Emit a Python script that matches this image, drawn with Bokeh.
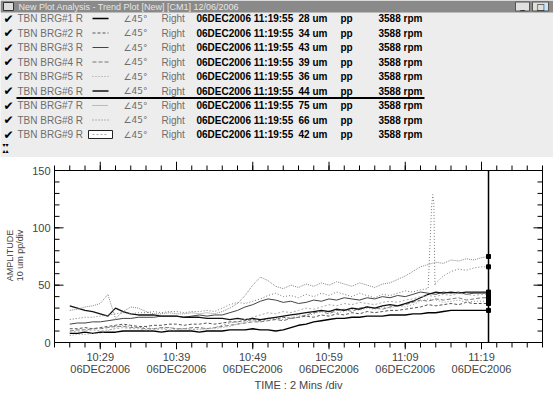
from bokeh.plotting import figure
from bokeh.models import Range1d, FixedTicker, ColumnDataSource
from bokeh.core.properties import value
from bokeh.embed import file_html
from bokeh.resources import INLINE

FONT = "Liberation Sans"

# ---------------- data ----------------
# sample times, minutes after 10:00 (10:25 ... 11:19, then cursor 11:19:55)
minutes = [25, 26, 27, 28, 29, 30, 31, 32, 33, 34,
           35, 36, 37, 38, 39, 40, 41, 42, 43, 44,
           45, 46, 47, 48, 49, 50, 51, 52, 53, 54,
           55, 56, 57, 58, 59, 60, 61, 62, 63, 64,
           65, 66, 67, 68, 69, 70, 71, 72, 73, 74,
           75, 76, 77, 78, 79, 79.92]

s1 = [8, 8, 9, 8, 9, 9, 9, 10, 10, 10,
      10, 10, 9, 10, 10, 10, 10, 9, 10, 10,
      10, 11, 11, 11, 12, 11, 11, 10, 11, 13,
      15, 16, 18, 19, 20, 21, 21, 22, 22, 23,
      23, 23, 24, 24, 24, 25, 25, 26, 26, 27,
      28, 28, 28, 28, 28, 28]
s2 = [12, 12, 13, 12, 13, 14, 15, 16, 15, 14,
      14, 15, 15, 16, 16, 15, 16, 16, 17, 16,
      17, 18, 18, 19, 20, 19, 21, 20, 22, 21,
      22, 23, 22, 24, 23, 25, 24, 26, 25, 27,
      26, 27, 28, 28, 29, 30, 31, 33, 32, 33,
      34, 33, 35, 34, 34, 34]
s3 = [16, 17, 17, 18, 18, 19, 20, 21, 21, 22,
      22, 22, 23, 23, 23, 22, 23, 24, 23, 24,
      24, 26, 28, 31, 33, 36, 38, 37, 35, 36,
      34, 35, 37, 36, 38, 37, 39, 38, 37, 39,
      38, 40, 39, 41, 40, 42, 44, 43, 42, 44,
      43, 44, 42, 43, 43, 43]
s4 = [10, 11, 11, 12, 12, 13, 14, 14, 13, 13,
      12, 12, 13, 13, 12, 12, 13, 13, 12, 13,
      14, 15, 16, 17, 18, 18, 19, 20, 19, 21,
      22, 24, 26, 27, 25, 28, 29, 27, 30, 31,
      30, 29, 31, 32, 33, 35, 37, 36, 38, 37,
      38, 39, 37, 38, 39, 39]
s5 = [6, 7, 7, 8, 8, 10, 13, 15, 14, 13,
      13, 12, 12, 13, 12, 12, 12, 11, 12, 12,
      13, 14, 16, 18, 19, 18, 20, 21, 20, 22,
      24, 23, 25, 27, 28, 26, 27, 29, 28, 30,
      29, 31, 30, 32, 31, 33, 36, 38, 37, 35,
      36, 37, 35, 36, 36, 36]
s6 = [32, 30, 28, 27, 25, 23, 30, 27, 25, 24,
      24, 24, 23, 23, 23, 22, 22, 22, 21, 21,
      21, 20, 21, 20, 21, 20, 21, 22, 23, 24,
      25, 26, 27, 28, 27, 29, 28, 30, 29, 31,
      30, 32, 33, 32, 34, 36, 39, 42, 44, 43,
      44, 43, 44, 44, 44, 44]
s7 = [28, 29, 31, 32, 34, 42, 21, 27, 31, 30,
      27, 25, 25, 26, 25, 25, 26, 25, 26, 25,
      27, 30, 34, 41, 50, 57, 54, 49, 47, 50,
      48, 51, 49, 52, 50, 53, 51, 49, 52, 50,
      48, 51, 52, 55, 58, 62, 66, 68, 70, 69,
      72, 71, 73, 72, 74, 75]
s8 = [20, 21, 22, 22, 23, 24, 25, 26, 25, 26,
      26, 27, 26, 27, 27, 26, 27, 27, 28, 27,
      30, 33, 35, 34, 36, 38, 41, 43, 40, 41,
      39, 42, 40, 43, 41, 44, 42, 40, 43, 41,
      39, 42, 41, 43, 45, 44, 46, 47, 52, 58,
      62, 64, 63, 65, 66, 66]
s8_spike_minutes = [72.45, 72.6, 72.75, 72.9]
s8_spike_values = [118, 129, 121, 50]
s9 = [9, 10, 10, 11, 10, 11, 12, 13, 12, 12,
      11, 11, 12, 11, 11, 12, 11, 12, 12, 13,
      15, 17, 18, 20, 22, 24, 26, 25, 27, 26,
      28, 30, 29, 31, 33, 32, 34, 33, 35, 34,
      33, 35, 36, 35, 37, 38, 40, 41, 40, 42,
      41, 43, 42, 41, 42, 42]

names = ["TBN BRG#1 R", "TBN BRG#2 R", "TBN BRG#3 R", "TBN BRG#4 R", "TBN BRG#5 R",
         "TBN BRG#6 R", "TBN BRG#7 R", "TBN BRG#8 R", "TBN BRG#9 R"]
amplitude = [28, 34, 43, 39, 36, 44, 75, 66, 42]
angle_label = "\u222045\u00b0"
side_label = "Right"
timestamp = "06DEC2006 11:19:55"
unit_label = "um"
pp_label = "pp"
speed_rpm = 3588

cursor_minute = 79.92
tick_minutes = [29, 39, 49, 59, 69, 79]
tick_times = ["10:29", "10:39", "10:49", "10:59", "11:09", "11:19"]
tick_date = "06DEC2006"
x_start, x_end = 23, 87
y_low, y_high = 0, 150
y_major = [0, 50, 100, 150]

styles = [
    dict(line_color="#000000", line_width=1.4),
    dict(line_color="#555555", line_width=1, line_dash="3 2"),
    dict(line_color="#444444", line_width=1),
    dict(line_color="#777777", line_width=1, line_dash="4 2"),
    dict(line_color="#999999", line_width=1, line_dash="1 2"),
    dict(line_color="#111111", line_width=1.3),
    dict(line_color="#888888", line_width=1, line_dash="1 1"),
    dict(line_color="#777777", line_width=1, line_dash="1 2"),
    dict(line_color="#aaaaaa", line_width=1, line_dash="2 2"),
]

# ---------------- header (legend table) ----------------
W, HH, HP = 553, 157, 236
hdr = figure(width=W, height=HH, x_range=Range1d(0, W), y_range=Range1d(HH, 0),
             output_backend="svg", toolbar_location=None, min_border=0,
             min_border_left=0, min_border_right=0, min_border_top=0, min_border_bottom=0,
             x_axis_type=None, y_axis_type=None,
             background_fill_color="#ededed", border_fill_color="#ededed",
             outline_line_color=None)
hdr.xgrid.visible = False
hdr.ygrid.visible = False

# title bar
hdr.quad(left=0, right=W, top=0, bottom=12, fill_color="#8a8a8a", line_color=None)
hdr.quad(left=3, right=13, top=2, bottom=10, fill_color="#dddddd", line_color="#333333")
hdr.text(x=[18], y=[6.5], text=["New Plot Analysis - Trend Plot [New] [CM1] 12/06/2006"],
         text_font=value(FONT), text_font_size="9px", text_color="#e6e6e6",
         text_baseline="middle")
hdr.quad(left=[515, 532], right=[529, 548], top=[1.5, 1.5], bottom=[10.5, 10.5],
         fill_color="#e0e0e0", line_color="#555555")
hdr.text(x=[522, 540], y=[5.5, 6.5], text=["_", "\u25a1"], text_font=value("DejaVu Sans"),
         text_font_size="9px", text_color="black", text_align="center",
         text_baseline="middle")

row_y = [18 + 14.5 * i for i in range(len(names))]

hdr.text(x=[3] * 9, y=row_y, text=["\u2714"] * 9, text_font=value("DejaVu Sans"),
         text_font_size="12px", text_color="black", text_baseline="middle")
hdr.text(x=[17] * 9, y=row_y, text=names, text_font=value(FONT),
         text_font_size="10px", text_color="#6e6e6e", text_baseline="middle")
hdr.quad(left=88, right=112, top=row_y[8] - 4, bottom=row_y[8] + 4,
         fill_color="white", line_color="#222222")
for i, st in enumerate(styles):
    hdr.segment(x0=92, x1=108, y0=row_y[i], y1=row_y[i], **st)
hdr.text(x=[123] * 9, y=row_y, text=[angle_label] * 9, text_font=value("DejaVu Sans"),
         text_font_size="9px", text_color="#6e6e6e", text_baseline="middle")
hdr.text(x=[161] * 9, y=row_y, text=[side_label] * 9, text_font=value(FONT),
         text_font_size="10px", text_color="#6e6e6e", text_baseline="middle")
bold = dict(text_font=value(FONT), text_font_size="10px", text_color="black",
            text_font_style="bold", text_baseline="middle")
hdr.text(x=[196] * 9, y=row_y, text=[timestamp] * 9, **bold)
hdr.text(x=[298] * 9, y=row_y, text=[f"{a} {unit_label}" for a in amplitude], **bold)
hdr.text(x=[340] * 9, y=row_y, text=[pp_label] * 9, **bold)
hdr.text(x=[378] * 9, y=row_y, text=[f"{speed_rpm} rpm"] * 9, **bold)
hdr.segment(x0=16, x1=424, y0=row_y[5] + 7, y1=row_y[5] + 7,
            line_color="black", line_width=2)
hdr.text(x=[2, 2], y=[144, 150], text=["\u25be\u25be", "\u25b4\u25b4"],
         text_font=value("DejaVu Sans"), text_font_size="6px", text_color="black",
         text_baseline="middle")

# ---------------- trend plot ----------------
# layout in pixels: frame padded so that outward ticks stay inside the drawing area
BORDER_L, BORDER_R, BORDER_T, BORDER_B = 53, 10, 4, 44
PAD_X, PAD_TOP, PAD_BOTTOM = 1, 9, 7
frame_w = W - BORDER_L - BORDER_R
frame_h = HP - BORDER_T - BORDER_B
px_x = (frame_w - 2 * PAD_X) / (x_end - x_start)
px_y = (frame_h - PAD_TOP - PAD_BOTTOM) / (y_high - y_low)

p = figure(width=W, height=HP,
           x_range=Range1d(x_start - PAD_X / px_x, x_end + PAD_X / px_x),
           y_range=Range1d(y_low - PAD_BOTTOM / px_y, y_high + PAD_TOP / px_y),
           output_backend="svg", toolbar_location=None,
           min_border_left=BORDER_L, min_border_right=BORDER_R,
           min_border_top=BORDER_T, min_border_bottom=BORDER_B,
           background_fill_color="white", border_fill_color="white",
           outline_line_color=None)
p.xgrid.visible = False
p.ygrid.visible = False

minor_x = list(range(x_start, x_end + 1, 2))
minor_y = list(range(y_low, y_high + 1, 10))

xa = p.xaxis[0]
xa.ticker = FixedTicker(ticks=tick_minutes)
xa.major_label_overrides = {m: f"{t}\n{tick_date}" for m, t in zip(tick_minutes, tick_times)}
xa.update(major_tick_out=0, major_tick_in=0, minor_tick_out=0, minor_tick_in=0,
          axis_line_color=None, major_tick_line_color=None, minor_tick_line_color=None)
xa.major_label_standoff = 1
xa.major_label_text_font = FONT
xa.major_label_text_font_size = "11px"
xa.major_label_text_line_height = 1.0
xa.axis_label = "TIME : 2 Mins /div"
xa.axis_label_text_font = FONT
xa.axis_label_text_font_size = "11px"
xa.axis_label_text_font_style = "normal"
xa.axis_label_text_line_height = 1.0
xa.axis_label_standoff = 1

ya = p.yaxis[0]
ya.ticker = FixedTicker(ticks=y_major)
ya.update(major_tick_out=0, major_tick_in=0, minor_tick_out=0, minor_tick_in=0,
          axis_line_color=None, major_tick_line_color=None, minor_tick_line_color=None)
ya.major_label_standoff = 3
ya.major_label_text_font = FONT
ya.major_label_text_font_size = "11px"
ya.axis_label = "AMPLITUDE\n10 um pp/div"
ya.axis_label_text_font = FONT
ya.axis_label_text_font_size = "9px"
ya.axis_label_text_font_style = "normal"
ya.axis_label_text_line_height = 1.0
ya.axis_label_standoff = 4

# plot box
p.quad(left=x_start, right=x_end, bottom=y_low, top=y_high,
       fill_color=None, line_color="black", line_width=1)

# tick marks (pixel lengths converted to data units)
def xticks(xs, y0, length_px, direction):
    return dict(x0=xs, x1=xs, y0=[y0] * len(xs),
                y1=[y0 + direction * length_px / px_y] * len(xs))

def yticks(ys, x0, length_px, direction):
    return dict(y0=ys, y1=ys, x0=[x0] * len(ys),
                x1=[x0 + direction * length_px / px_x] * len(ys))

tick_sets = [
    xticks(minor_x, y_low, 5, -1), xticks(tick_minutes, y_low, 7, -1),
    xticks(minor_x, y_high, 5, 1), xticks(tick_minutes, y_high, 9, 1),
    yticks(minor_y, x_start, 5, 1), yticks(y_major, x_start, 9, 1),
    yticks(minor_y, x_end, 5, -1), yticks(y_major, x_end, 9, -1),
]
for ts in tick_sets:
    p.segment(source=ColumnDataSource(ts), x0="x0", x1="x1", y0="y0", y1="y1",
              line_color="black", line_width=1)

series = [s1, s2, s3, s4, s5, s6, s7, s8, s9]
for i, (s, st) in enumerate(zip(series, styles)):
    xs, ys = list(minutes), list(s)
    if i == 7:
        pts = sorted(list(zip(xs, ys)) + list(zip(s8_spike_minutes, s8_spike_values)))
        xs = [a for a, _ in pts]
        ys = [b for _, b in pts]
    p.line(xs, ys, **st)

# cursor
p.segment(x0=[cursor_minute], x1=[cursor_minute], y0=[y_low], y1=[y_high],
          line_color="black", line_width=1.5)
p.scatter(x=[cursor_minute] * len(amplitude), y=amplitude, marker="square",
          size=4, color="black")

open("out.html", "w").write(file_html([hdr, p], INLINE))
